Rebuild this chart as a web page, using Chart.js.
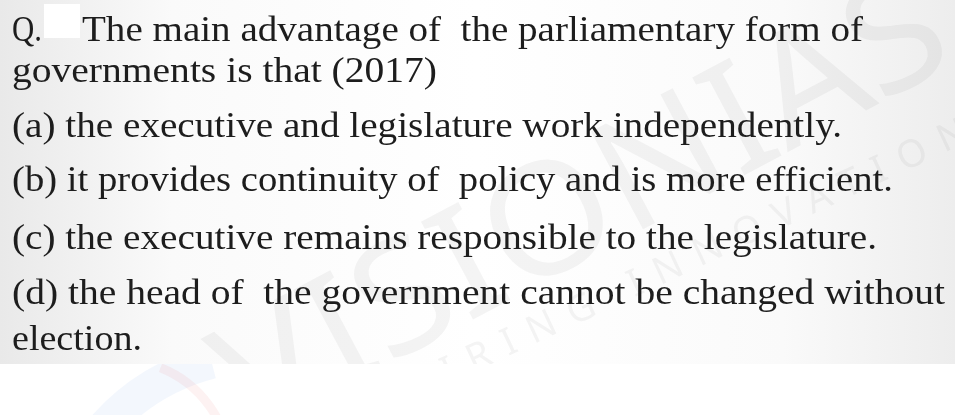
<!DOCTYPE html>
<html>
<head>
<meta charset="utf-8">
<script src="https://cdn.jsdelivr.net/npm/chart.js@4"></script>
<style>
html,body{margin:0;padding:0;background:#fff;}
#wrap{width:955px;height:415px;}
</style>
</head>
<body>
<div id="wrap"><canvas id="c" width="955" height="415"></canvas></div>
<script>
// ---- content ----
const questionMarker = "Q.";
const questionLines = ["The main advantage of  the parliamentary form of", "governments is that (2017)"];
const optionLabels = ["(a)", "(b)", "(c)", "(d)"];
const optionTexts = [
  "the executive and legislature work independently.",
  "it provides continuity of  policy and is more efficient.",
  "the executive remains responsible to the legislature.",
  "the head of  the government cannot be changed without"
];
const optionContinuation = ["election."];
const watermarkWord = "VISIONIAS";
const watermarkTagline = "INSPIRING INNOVATION";

// ---- layout (in scale units: x 0..955, y 0..415 top-down) ----
const LEFT = 12;
const lineSpec = [
  {text: questionMarker, x: LEFT, base: 41, right: 42},
  {text: questionLines[0], x: 82, base: 41, right: 863},
  {text: questionLines[1], x: LEFT, base: 82, right: 437},
  {text: optionLabels[0] + " " + optionTexts[0], x: LEFT, base: 137, right: 842},
  {text: optionLabels[1] + " " + optionTexts[1], x: LEFT, base: 191, right: 893},
  {text: optionLabels[2] + " " + optionTexts[2], x: LEFT, base: 249, right: 877},
  {text: optionLabels[3] + " " + optionTexts[3], x: LEFT, base: 304, right: 945},
  {text: optionContinuation[0], x: LEFT, base: 350, right: 142}
];
const PANEL_BOTTOM = 364;

const pagePlugin = {
  id: 'page',
  beforeDraw(chart) {
    const {ctx} = chart;
    const sx = chart.scales.x, sy = chart.scales.y;
    const X = v => sx.getPixelForValue(v), Y = v => sy.getPixelForValue(v);
    ctx.save();
    ctx.fillStyle = '#ffffff';
    ctx.fillRect(0, 0, chart.width, chart.height);
    // faint logo arcs below the panel
    ctx.lineWidth = 34;
    ctx.strokeStyle = 'rgba(90,135,225,0.07)';
    ctx.beginPath();
    ctx.arc(X(265), Y(570), 215, Math.PI * 1.04, Math.PI * 1.42);
    ctx.stroke();
    ctx.lineWidth = 9;
    ctx.strokeStyle = 'rgba(230,90,90,0.08)';
    ctx.beginPath();
    ctx.arc(X(120), Y(470), 110, Math.PI * 1.62, Math.PI * 1.98);
    ctx.stroke();
    // grey panel with gradient
    const g = ctx.createLinearGradient(X(0), 0, X(955), 0);
    g.addColorStop(0, '#e9e9e9');
    g.addColorStop(0.18, '#fafafa');
    g.addColorStop(0.5, '#ffffff');
    g.addColorStop(0.82, '#fafafa');
    g.addColorStop(1, '#ededed');
    ctx.fillStyle = g;
    ctx.fillRect(X(0), Y(0), X(955) - X(0), Y(PANEL_BOTTOM) - Y(0));
    // watermark in panel
    ctx.beginPath();
    ctx.rect(X(0), Y(0), X(955) - X(0), Y(PANEL_BOTTOM) - Y(0));
    ctx.clip();
    ctx.fillStyle = 'rgba(110,110,110,0.075)';
    ctx.translate(X(585), Y(210));
    ctx.rotate(-28 * Math.PI / 180);
    ctx.font = '155px "Noto Sans"';
    ctx.textAlign = 'center';
    ctx.textBaseline = 'middle';
    const w = ctx.measureText(watermarkWord).width;
    ctx.scale(800 / w, 1);
    ctx.fillText(watermarkWord, 0, 0);
    ctx.restore();
    ctx.save();
    ctx.beginPath();
    ctx.rect(X(0), Y(0), X(955) - X(0), Y(PANEL_BOTTOM) - Y(0));
    ctx.clip();
    ctx.fillStyle = 'rgba(110,110,110,0.075)';
    ctx.translate(X(650), Y(290));
    ctx.rotate(-25 * Math.PI / 180);
    ctx.font = '38px "Noto Sans"';
    ctx.textAlign = 'center';
    ctx.textBaseline = 'alphabetic';
    if ('letterSpacing' in ctx) ctx.letterSpacing = '15px';
    ctx.fillText(watermarkTagline, 0, 0);
    ctx.restore();
    // white patch after Q.
    ctx.save();
    ctx.fillStyle = '#ffffff';
    ctx.fillRect(X(44), Y(4), X(80) - X(44), Y(38) - Y(4));
    ctx.restore();
  },
  afterDraw(chart) {
    const {ctx} = chart;
    const sx = chart.scales.x, sy = chart.scales.y;
    ctx.save();
    ctx.fillStyle = '#1d1d1d';
    ctx.font = '35px "Liberation Serif"';
    ctx.textBaseline = 'alphabetic';
    ctx.textAlign = 'left';
    for (const l of lineSpec) {
      const x0 = sx.getPixelForValue(l.x);
      const y = sy.getPixelForValue(l.base);
      const w = ctx.measureText(l.text).width;
      const k = (sx.getPixelForValue(l.right) - x0) / w;
      ctx.save();
      ctx.translate(x0, y);
      ctx.scale(k, 1);
      ctx.fillText(l.text, 0, 0);
      ctx.restore();
    }
    ctx.restore();
  }
};

new Chart(document.getElementById('c'), {
  type: 'scatter',
  data: {datasets: [{data: [], pointRadius: 0}]},
  options: {
    responsive: false,
    animation: false,
    layout: {padding: 0},
    plugins: {legend: {display: false}, tooltip: {enabled: false}, title: {display: false}},
    scales: {
      x: {type: 'linear', min: 0, max: 955, display: false},
      y: {type: 'linear', min: 0, max: 415, reverse: true, display: false}
    }
  },
  plugins: [pagePlugin]
});
</script>
</body>
</html>
